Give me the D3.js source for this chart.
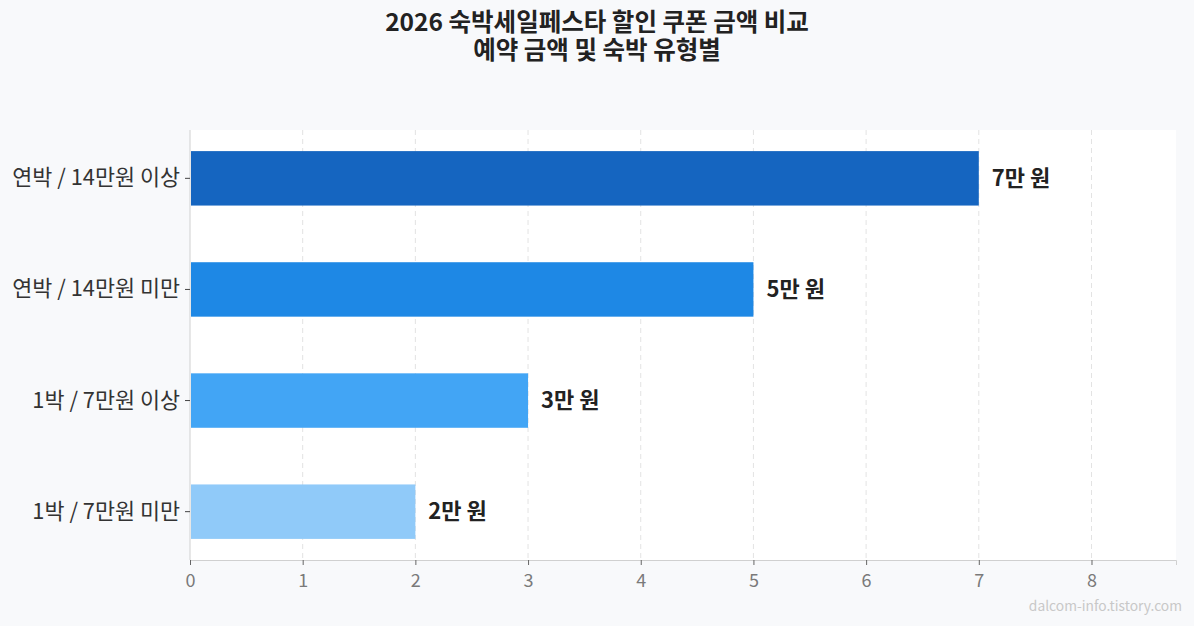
<!DOCTYPE html>
<html><head><meta charset="utf-8">
<script src="https://cdn.jsdelivr.net/npm/d3@7"></script>
<style>
html,body{margin:0;padding:0;background:#f8f9fb;}
svg{display:block;font-family:"Noto Sans CJK KR","Noto Sans",sans-serif;}
</style></head>
<body>
<svg id="chart" width="1194" height="626"></svg>
<script>
const categories = ["연박 / 14만원 이상", "연박 / 14만원 미만", "1박 / 7만원 이상", "1박 / 7만원 미만"];
const values = [7, 5, 3, 2];
const valueLabels = ["7만 원", "5만 원", "3만 원", "2만 원"];
const colors = ["#1565c0", "#1e88e5", "#42a5f5", "#90caf9"];
const xTicks = [0, 1, 2, 3, 4, 5, 6, 7, 8];
const titleLines = ["2026 숙박세일페스타 할인 쿠폰 금액 비교", "예약 금액 및 숙박 유형별"];

const svg = d3.select("#chart");
const W = 1194, H = 626;
const m = {left: 190, right: 18, top: 130, bottom: 66};
const iw = W - m.left - m.right, ih = H - m.top - m.bottom;

const x = d3.scaleLinear().domain([0, 8.75]).range([0, iw]);
const y = d3.scaleBand().domain(categories).range([0, ih]).paddingInner(0.51).paddingOuter(0.19);

svg.append("g").selectAll("text").data(titleLines).join("text")
  .attr("x", W/2).attr("y", (d,i) => 31 + i*28)
  .attr("text-anchor", "middle").style("font-size", "24.5px").attr("font-weight", 700)
  .attr("fill", "#222").text(d => d);

const g = svg.append("g").attr("transform", `translate(${m.left},${m.top})`);
g.append("rect").attr("width", iw).attr("height", ih).attr("fill", "#ffffff");

// grid
g.append("g").selectAll("line").data(xTicks.filter(d => d > 0)).join("line")
  .attr("x1", d => x(d)).attr("x2", d => x(d)).attr("y1", 0).attr("y2", ih)
  .attr("stroke", "#e3e3e3").attr("stroke-dasharray", "5,4").attr("stroke-width", 1);

// bars
g.append("g").selectAll("rect").data(values).join("rect")
  .attr("x", x(0) + 1).attr("y", (d,i) => y(categories[i]))
  .attr("width", d => x(d) - x(0) - 1).attr("height", y.bandwidth())
  .attr("fill", (d,i) => colors[i]);

// value labels
g.append("g").selectAll("text").data(values).join("text")
  .attr("x", d => x(d) + 13).attr("y", (d,i) => y(categories[i]) + y.bandwidth()/2)
  .attr("dy", "0.35em").style("font-size", "22px").attr("font-weight", 700).attr("fill", "#222")
  .text((d,i) => valueLabels[i]);

// x axis
const xa = g.append("g").attr("transform", `translate(0,${ih})`)
  .call(d3.axisBottom(x).tickValues(xTicks).tickSize(5).tickPadding(9).tickFormat(d3.format("d")));
xa.attr("font-size", null).attr("font-family", null);
xa.select(".domain").attr("stroke", "#d0d0d0");
xa.selectAll(".tick line").attr("stroke", "#666");
xa.selectAll(".tick text").attr("fill", "#7a7a7a").style("font-size", "18px");

// y axis
const ya = g.append("g").call(d3.axisLeft(y).tickSize(5).tickPadding(5));
ya.attr("font-size", null).attr("font-family", null);
ya.select(".domain").attr("stroke", "#d0d0d0").attr("d", `M0,0V${ih}`);
ya.selectAll(".tick line").attr("stroke", "#444");
ya.selectAll(".tick text").attr("fill", "#333").style("font-size", "21.8px");

svg.append("text").attr("x", 1182).attr("y", 611).attr("text-anchor", "end")
  .style("font-size", "13.8px").attr("fill", "#c8c8c8").text("dalcom-info.tistory.com");
</script>
</body></html>
